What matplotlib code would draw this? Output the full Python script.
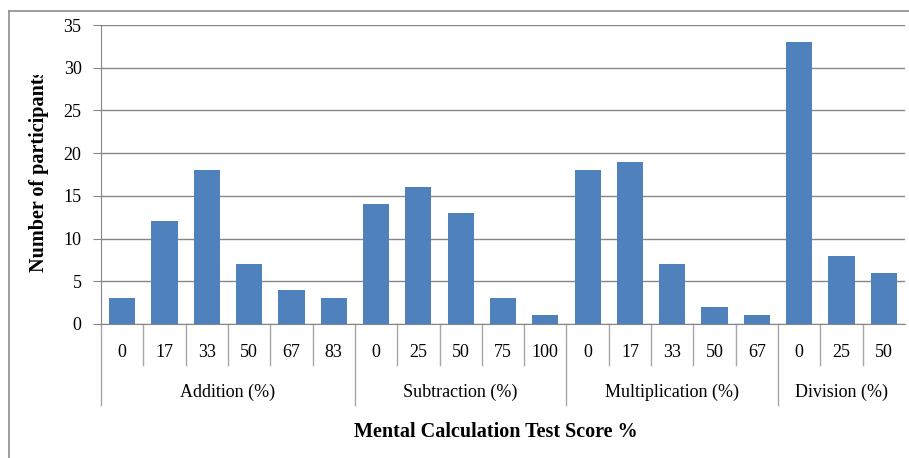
import numpy as np
import matplotlib.pyplot as plt
from matplotlib.lines import Line2D
import matplotlib.transforms as mtransforms

plt.rcParams['font.family'] = ['Liberation Serif', 'DejaVu Serif']

groups = ['Addition (%)', 'Subtraction (%)', 'Multiplication (%)', 'Division (%)']
scores = [['0', '17', '33', '50', '67', '83'],
          ['0', '25', '50', '75', '100'],
          ['0', '17', '33', '50', '67'],
          ['0', '25', '50']]
counts = [[3, 12, 18, 7, 4, 3],
          [14, 16, 13, 3, 1],
          [18, 19, 7, 2, 1],
          [33, 8, 6]]

labels = [s for g in scores for s in g]
values = [v for g in counts for v in g]
x = np.arange(len(values))

fig = plt.figure(figsize=(9.09, 4.58), dpi=100)
ax = fig.add_axes([101/909, 1 - 324/458, 804/909, 299/458])

ax.bar(x, values, width=0.62, color='#4F81BD', zorder=3)
ax.set_xlim(-0.5, len(values) - 0.5)
ax.set_ylim(0, 35)
ax.set_yticks(range(0, 36, 5))
ax.tick_params(axis='y', labelsize=13, length=6, color='#868686', pad=8)
ax.yaxis.grid(True, color='#868686', linewidth=1)
ax.set_axisbelow(True)
ax.set_xticks([])
for s in ['top', 'right']:
    ax.spines[s].set_visible(False)
ax.spines['left'].set_color('#868686')
ax.spines['bottom'].set_color('#868686')

trans = mtransforms.blended_transform_factory(ax.transData, ax.transAxes)
gc = '#a6a6a6'
# category labels and small separators
for i, lab in enumerate(labels):
    ax.text(i, -0.094, lab, transform=trans, ha='center', va='center', fontsize=13)
bounds = np.cumsum([len(g) for g in scores])
for b in range(1, len(values)):
    low = -0.271 if b in bounds else -0.137
    ax.add_line(Line2D([b - 0.5, b - 0.5], [0, low], transform=trans,
                       color=gc, lw=1, clip_on=False))
ax.add_line(Line2D([-0.5, -0.5], [0, -0.271], transform=trans,
                   color=gc, lw=1, clip_on=False))

# group labels
start = 0
for g, sc in zip(groups, scores):
    mid = start + (len(sc) - 1) / 2
    ax.text(mid, -0.227, g, transform=trans, ha='center', va='center', fontsize=13)
    start += len(sc)

# y label, cut at the top like the original
yl = fig.text(39/909, 1 - 171/458, 'Number of participants', rotation=90,
              ha='center', va='center', fontsize=14.5, fontweight='bold')
clip = mtransforms.TransformedBbox(
    mtransforms.Bbox([[0, 0], [1, 1 - 75/458]]), fig.transFigure)
yl.set_clip_box(clip)
yl.set_clip_on(True)

fig.text(496/909, 1 - 432/458, 'Mental Calculation Test Score %',
         ha='center', va='center', fontsize=14.5, fontweight='bold')

# outer chart border
fig.add_artist(Line2D([9/909, 9/909], [0, 1 - 11/458], transform=fig.transFigure,
                      color='#8c8c8c', lw=1.2))
fig.add_artist(Line2D([9/909, 1], [1 - 11/458, 1 - 11/458], transform=fig.transFigure,
                      color='#8c8c8c', lw=1.2))

fig.savefig('out.png', dpi=100)
